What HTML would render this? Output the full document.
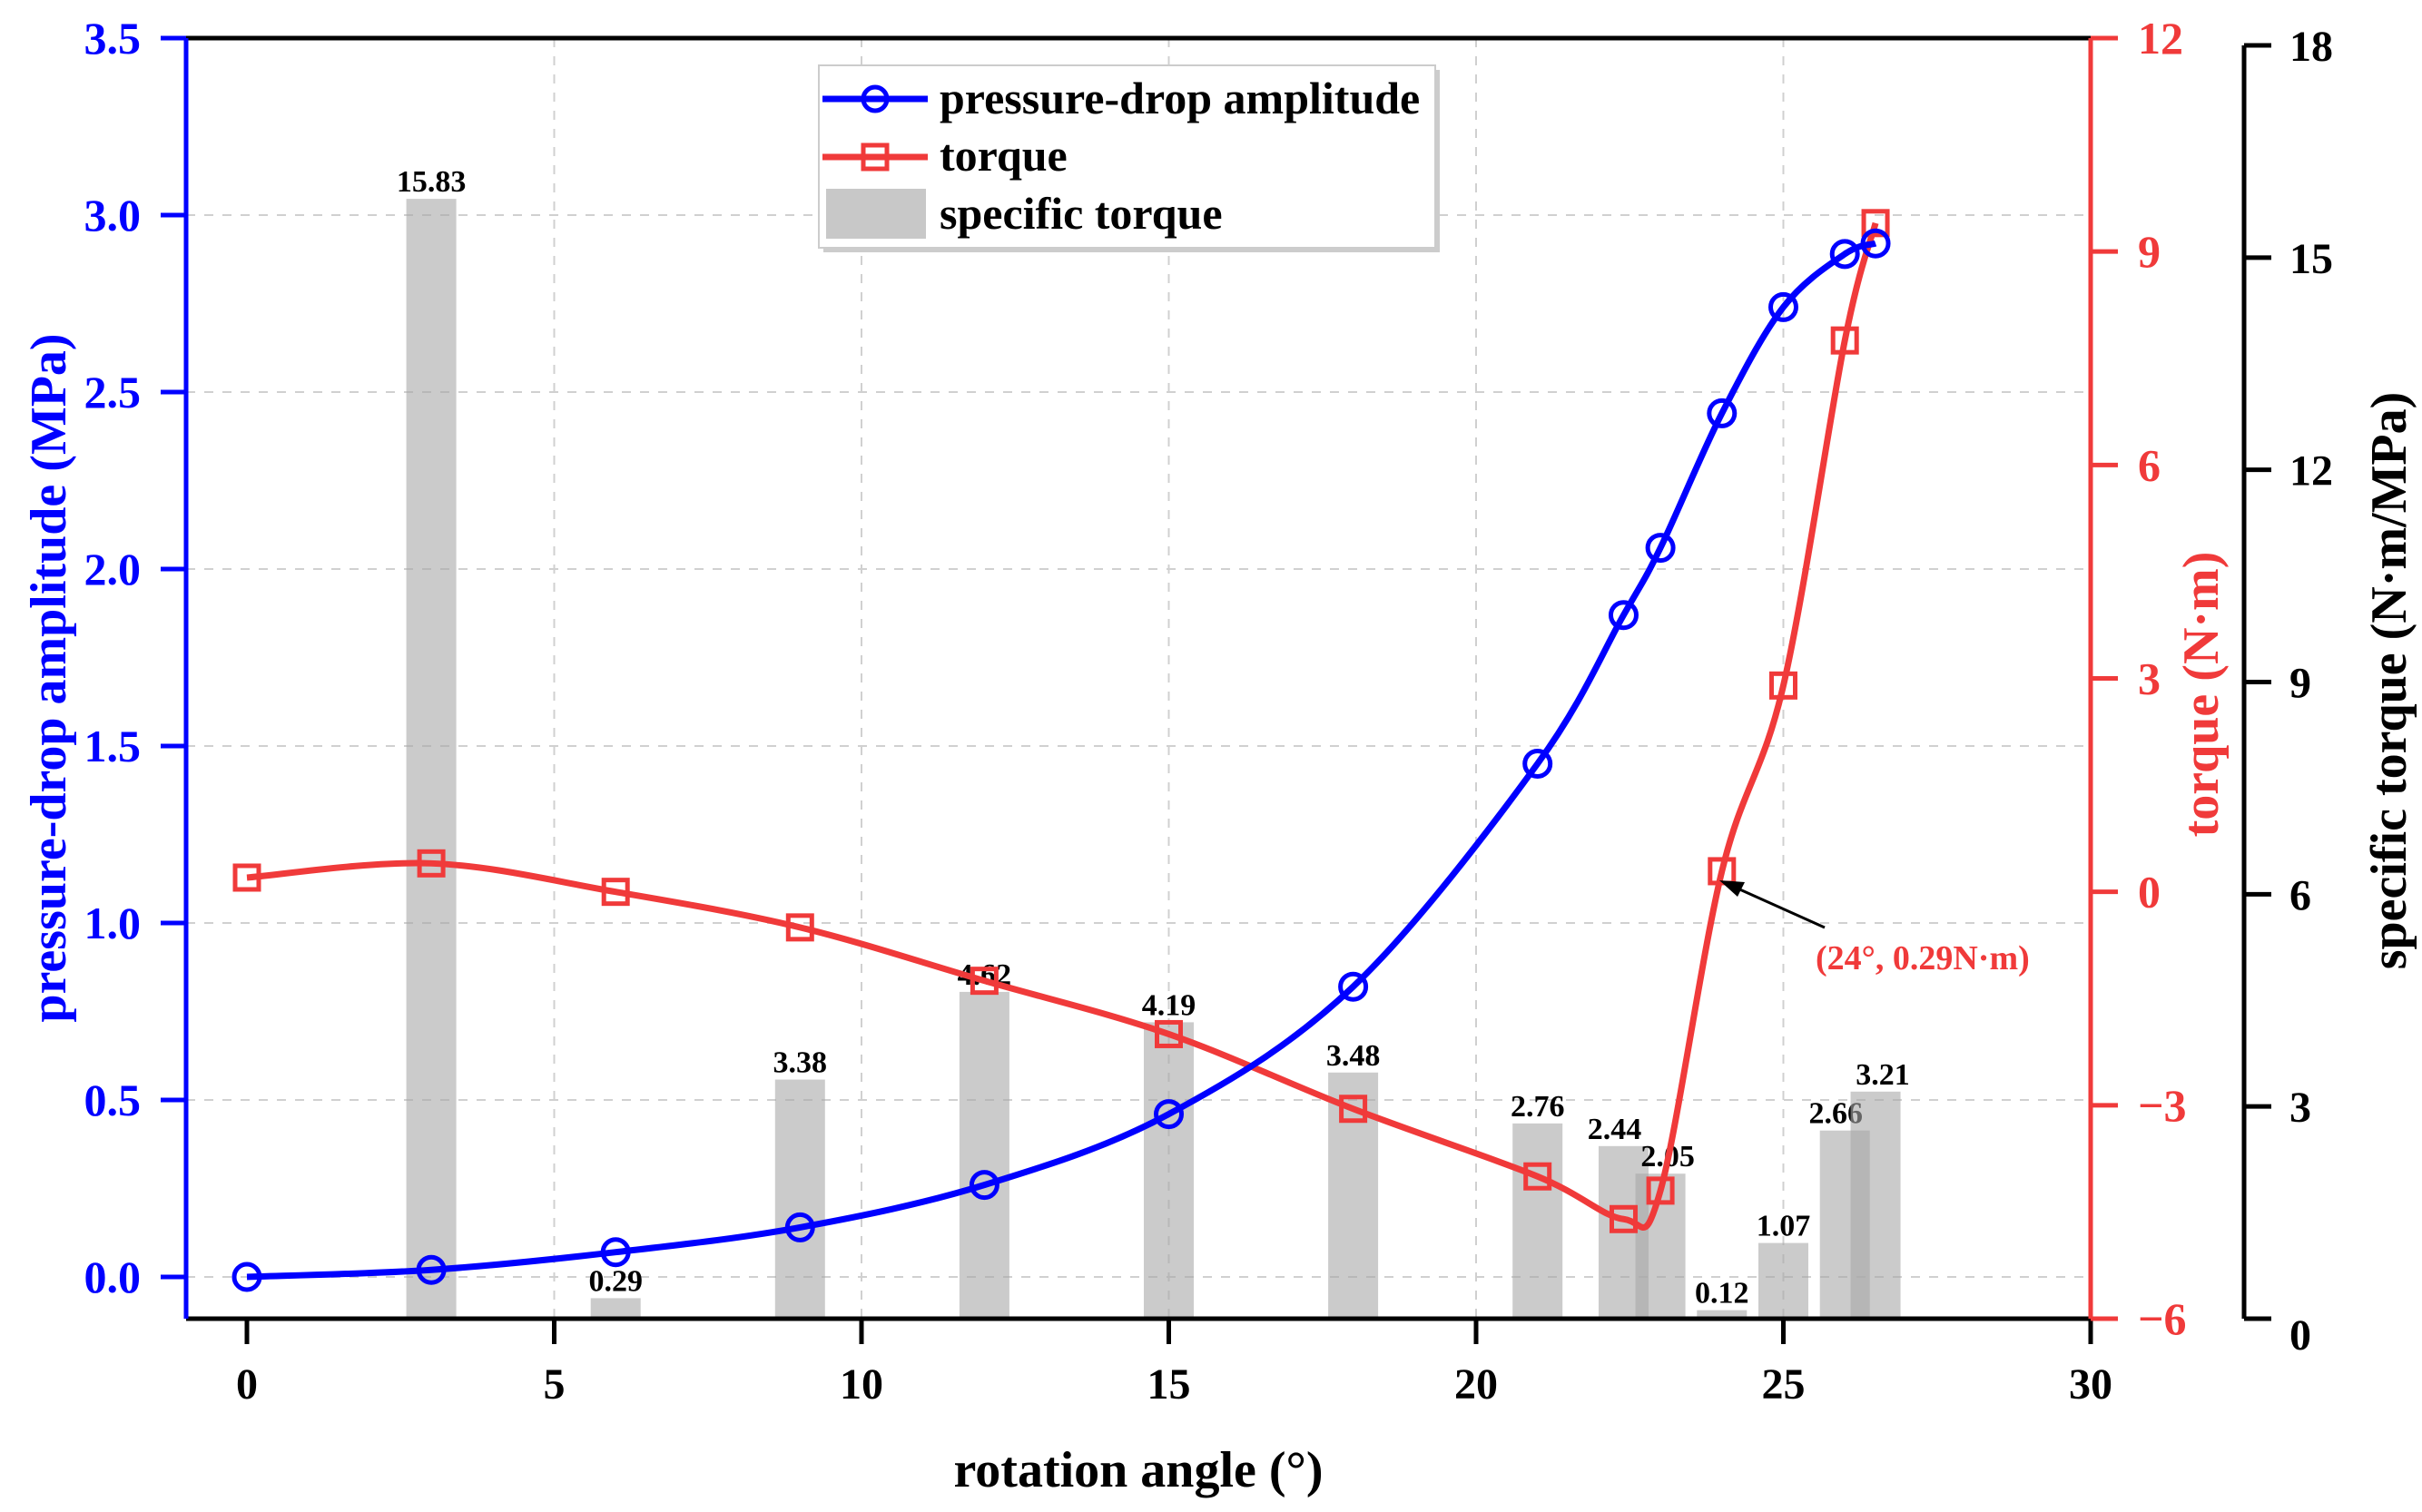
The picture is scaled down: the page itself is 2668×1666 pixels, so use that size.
<!DOCTYPE html>
<html><head><meta charset="utf-8"><style>
body{margin:0;background:#fff}
svg{display:block;font-family:"Liberation Serif",serif;font-weight:bold}
</style></head><body>
<svg id="c" width="2668" height="1666" viewBox="0 0 2668 1666" xmlns="http://www.w3.org/2000/svg">
<g id="grid"></g>
<g id="bars"></g>
<g id="lines"></g>
<g id="axes"></g>
<g>
<rect x="907" y="77" width="679" height="201" fill="#ccc"/>
<rect x="902" y="72" width="679" height="201" fill="#fff" stroke="#ccc" stroke-width="2"/>
<g><line x1="906" y1="109" x2="1022" y2="109" stroke="#0000ff" stroke-width="7"/><circle cx="964" cy="109" r="13" fill="none" stroke="#0000ff" stroke-width="5"/><text x="1035" y="125" font-size="50">pressure-drop amplitude</text></g>
<g><line x1="906" y1="173" x2="1022" y2="173" stroke="#f03a3a" stroke-width="7"/><rect x="951" y="160" width="26" height="26" fill="none" stroke="#f03a3a" stroke-width="5"/><text x="1035" y="188" font-size="50">torque</text></g>
<g><rect x="910" y="208" width="110" height="55" fill="#c8c8c8"/><text x="1035" y="252" font-size="50">specific torque</text></g>
</g>
<g>
<line x1="2010" y1="1022" x2="1912" y2="978" stroke="#000" stroke-width="3"/>
<polygon points="1894,970 1922,972 1914,988" fill="#000"/>
<text x="2000" y="1068" font-size="38" fill="#f03a3a">(24°, 0.29N·m)</text>
</g>
</svg>
<script>
const angles=[0,3,6,9,12,15,18,21,22.4,23,24,25,26,26.5];
const pressure=[0,0.02,0.07,0.14,0.26,0.46,0.82,1.45,1.87,2.06,2.44,2.74,2.89,2.92];
const torque=[0.2,0.4,0.0,-0.5,-1.25,-2.0,-3.05,-4.0,-4.6,-4.2,0.29,2.9,7.75,9.4];
const barAngles=[3,6,9,12,15,18,21,22.4,23,24,25,26,26.5];
const specific=[15.83,0.29,3.38,4.62,4.19,3.48,2.76,2.44,2.05,0.12,1.07,2.66,3.21];
const xTicks=[0,5,10,15,20,25,30];
const pTicks=[0,0.5,1,1.5,2,2.5,3,3.5];
const tTicks=[-6,-3,0,3,6,9,12];
const sTicks=[0,3,6,9,12,15,18];
const NS="http://www.w3.org/2000/svg";
const L=205,R=2303,T=42,B=1453,A3=2472;
const X=v=>272+v*(2303-272)/30;
const YP=v=>1407-v*390;
const YT=v=>B-(v+6)*(B-T)/18;
const YS=v=>B-v*(B-50)/18;
function el(p,tag,at,txt){const e=document.createElementNS(NS,tag);for(const k in at)e.setAttribute(k,at[k]);if(txt!==undefined)e.textContent=txt;document.getElementById(p).appendChild(e);return e;}
xTicks.slice(1,-1).forEach(v=>{const e=el('grid','line',{x1:X(v),x2:X(v),y1:T,y2:B,stroke:'#d0d0d0','stroke-width':2,'stroke-dasharray':'10 10'});

});
pTicks.slice(0,-1).forEach(v=>{const e=el('grid','line',{x1:L,x2:R,y1:YP(v),y2:YP(v),stroke:'#d0d0d0','stroke-width':2,'stroke-dasharray':'10 10'});

});
const bw=55;
barAngles.forEach((a,i)=>{const y=YS(specific[i]);
const r=el('bars','rect',{x:X(a)-bw/2,y:y,width:bw,height:B-y,fill:'#a8a8a8','fill-opacity':0.6});


const t=el('bars','text',{x:X(a)+(a===23?8:(a===26.5?8:(a===22.4||a===26?-10:0))),y:y-8,'font-size':34,'text-anchor':'middle'},specific[i].toFixed(2));

});
function spline(pts){let d='M'+pts[0][0]+','+pts[0][1];for(let i=0;i<pts.length-1;i++){const p0=pts[Math.max(i-1,0)],p1=pts[i],p2=pts[i+1],p3=pts[Math.min(i+2,pts.length-1)];
d+=' C'+(p1[0]+(p2[0]-p0[0])/6)+','+(p1[1]+(p2[1]-p0[1])/6)+' '+(p2[0]-(p3[0]-p1[0])/6)+','+(p2[1]-(p3[1]-p1[1])/6)+' '+p2[0]+','+p2[1];}return d;}
const pp=angles.map((a,i)=>[X(a),YP(pressure[i])]);
const tp=angles.map((a,i)=>[X(a),YT(torque[i])]);
const l1=el('lines','path',{d:spline(tp),fill:'none',stroke:'#f03a3a','stroke-width':7});


const l2=el('lines','path',{d:spline(pp),fill:'none',stroke:'#0000ff','stroke-width':7});


tp.forEach(p=>{const m=el('lines','rect',{x:p[0]-13,y:p[1]-13,width:26,height:26,fill:'none',stroke:'#f03a3a','stroke-width':5});

});
pp.forEach(p=>{const m=el('lines','circle',{cx:p[0],cy:p[1],r:14,fill:'none',stroke:'#0000ff','stroke-width':5});

});
el('axes','line',{x1:L,x2:R,y1:T,y2:T,stroke:'#000','stroke-width':5});
el('axes','line',{x1:L,x2:R,y1:B,y2:B,stroke:'#000','stroke-width':5});
el('axes','line',{x1:L,x2:L,y1:T,y2:B,stroke:'#0000ff','stroke-width':5});
el('axes','line',{x1:R,x2:R,y1:T,y2:B,stroke:'#f03a3a','stroke-width':5});
el('axes','line',{x1:A3,x2:A3,y1:50,y2:B,stroke:'#000','stroke-width':5});
xTicks.forEach(v=>{el('axes','line',{x1:X(v),x2:X(v),y1:B,y2:B+28,stroke:'#000','stroke-width':5});
const t=el('axes','text',{x:X(v),y:B+88,'font-size':48,'text-anchor':'middle'},v);

});
pTicks.forEach(v=>{el('axes','line',{x1:L-28,x2:L,y1:YP(v),y2:YP(v),stroke:'#0000ff','stroke-width':5});
const t=el('axes','text',{x:L-50,y:YP(v)+17,'font-size':50,'text-anchor':'end',fill:'#0000ff'},v.toFixed(1));

});
tTicks.forEach(v=>{el('axes','line',{x1:R,x2:R+30,y1:YT(v),y2:YT(v),stroke:'#f03a3a','stroke-width':5});
const t=el('axes','text',{x:R+52,y:YT(v)+17,'font-size':50,fill:'#f03a3a'},v<0?'\u2212'+(-v):v);

});
sTicks.forEach(v=>{el('axes','line',{x1:A3,x2:A3+30,y1:YS(v),y2:YS(v),stroke:'#000','stroke-width':5});
const t=el('axes','text',{x:A3+50,y:YS(v)+(v===0?34:17),'font-size':48},v);

});
const xt=el('axes','text',{x:1254,y:1638,'font-size':56,'text-anchor':'middle'},'rotation angle (°)');


const y1=el('axes','text',{transform:'translate(72,747) rotate(-90)','font-size':56,'text-anchor':'middle',fill:'#0000ff'},'pressure-drop amplitude (MPa)');


const y2=el('axes','text',{transform:'translate(2443,765) rotate(-90)','font-size':56,'text-anchor':'middle',fill:'#f03a3a'},'torque (N·m)');


const y3=el('axes','text',{transform:'translate(2650,750) rotate(-90)','font-size':56,'text-anchor':'middle'},'specific torque (N·m/MPa)');


</script>
</body></html>
